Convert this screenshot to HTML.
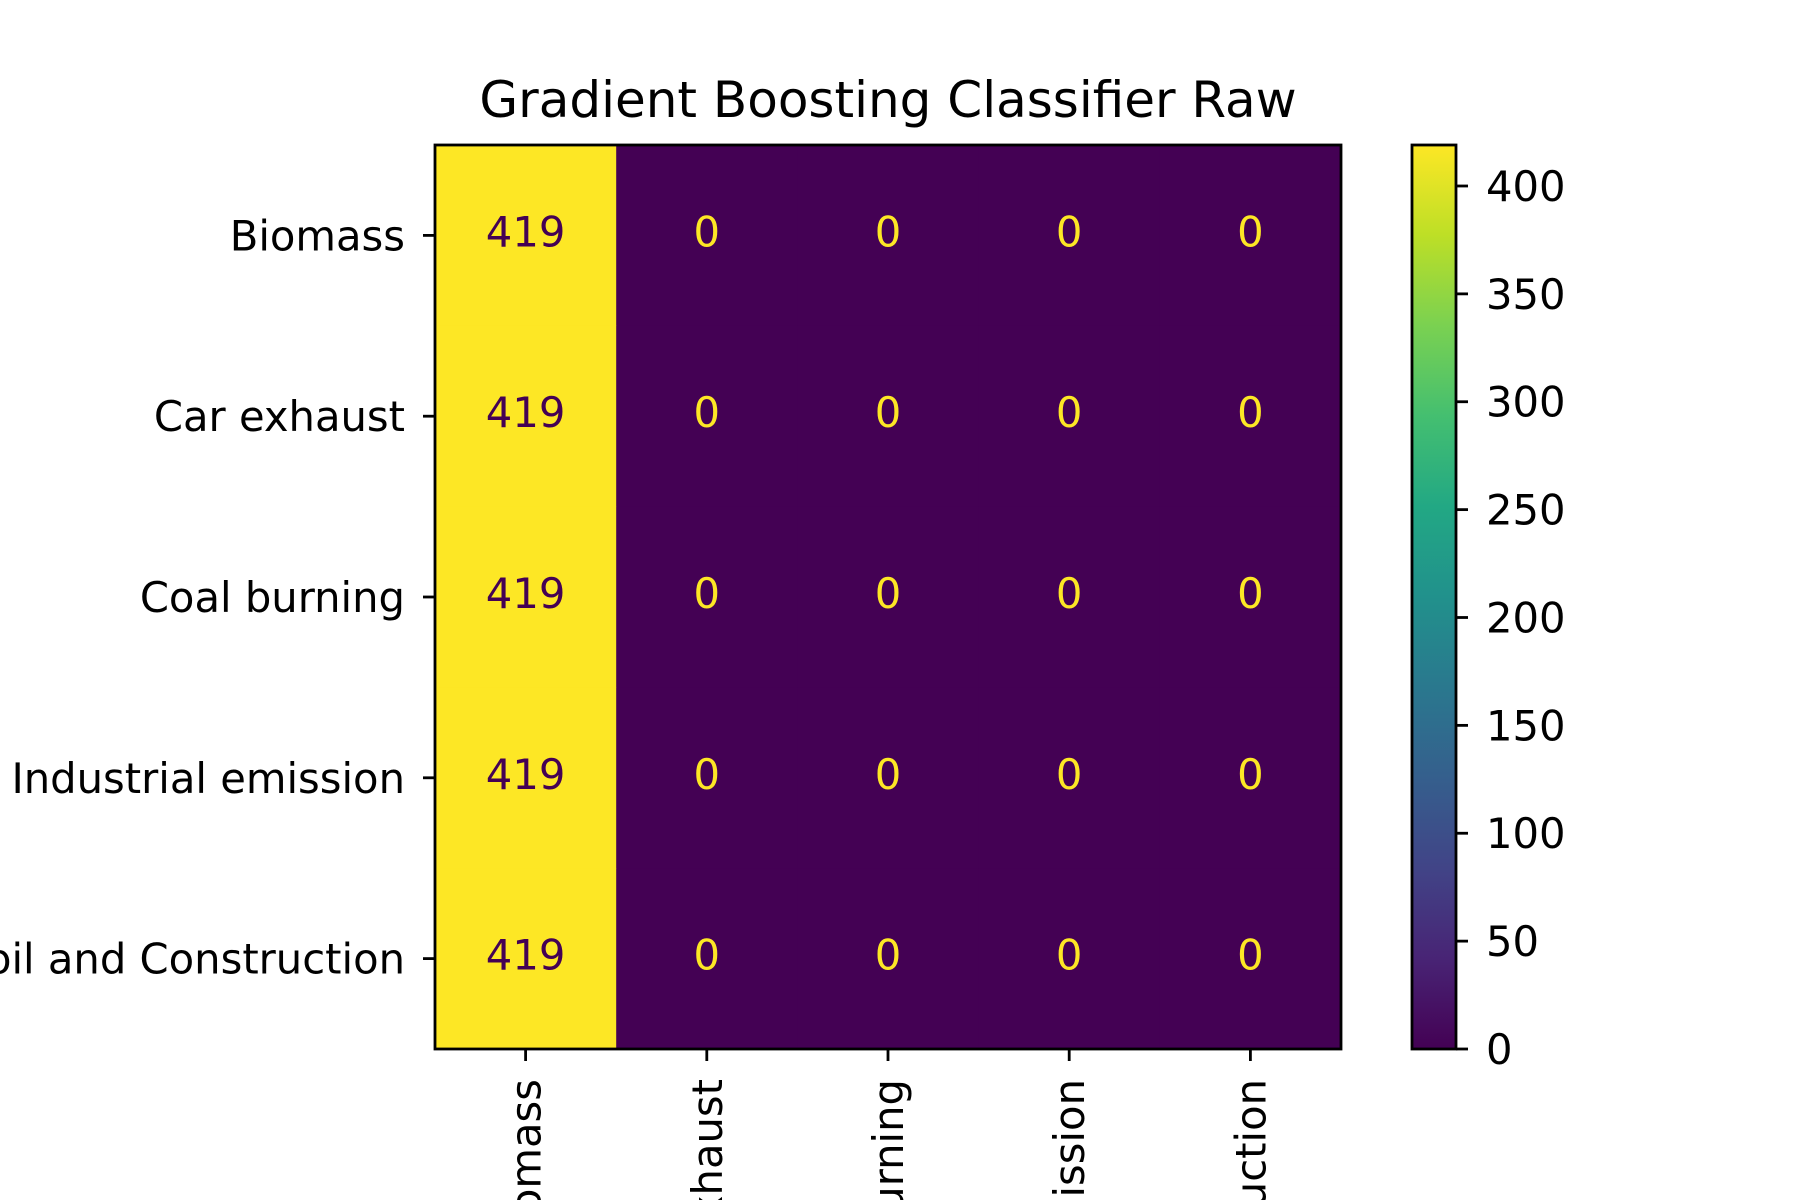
<!DOCTYPE html>
<html><head><meta charset="utf-8"><style>
html,body{margin:0;padding:0;background:#fff;width:1800px;height:1200px;overflow:hidden;}
svg{display:block;}
svg text{font-family:"DejaVu Sans","Liberation Sans",sans-serif;}
</style></head><body>
<svg id="chart" width="1800" height="1200" xmlns="http://www.w3.org/2000/svg">
<defs>
<linearGradient id="viridis" x1="0" y1="1" x2="0" y2="0">
<stop offset="0" stop-color="#440154"/><stop offset="0.1" stop-color="#482475"/>
<stop offset="0.2" stop-color="#414487"/><stop offset="0.3" stop-color="#355f8d"/>
<stop offset="0.4" stop-color="#2a788e"/><stop offset="0.5" stop-color="#21918c"/>
<stop offset="0.6" stop-color="#22a884"/><stop offset="0.7" stop-color="#44bf70"/>
<stop offset="0.8" stop-color="#7ad151"/><stop offset="0.9" stop-color="#bddf26"/>
<stop offset="1" stop-color="#fde725"/>
</linearGradient>
</defs>
<text x="888" y="117" font-size="50" text-anchor="middle">Gradient Boosting Classifier Raw</text>
<g id="cells"></g>
<g id="axes"></g>
<rect x="1412" y="145" width="44" height="904" fill="url(#viridis)" stroke="#000" stroke-width="2.8"/>
<g id="cbar"></g>
</svg>
<script>
const labels = ["Biomass","Car exhaust","Coal burning","Industrial emission","Soil and Construction"];
const matrix = [
 [419,0,0,0,0],
 [419,0,0,0,0],
 [419,0,0,0,0],
 [419,0,0,0,0],
 [419,0,0,0,0]
];
const cbarTicks = [0,50,100,150,200,250,300,350,400];
const vmax = 419;

const NS="http://www.w3.org/2000/svg";
const L=435,R=1341,T=145,B=1049;
const n=labels.length, cw=(R-L)/n, ch=(B-T)/n;
const xc=i=>L+cw*(i+0.5), yc=i=>T+ch*(i+0.5);
const cy=v=>B-(B-T)*v/vmax;
const FS=41.7;
const stops=[[68,1,84],[72,36,117],[65,68,135],[53,95,141],[42,120,142],[33,145,140],[34,168,132],[68,191,112],[122,209,81],[189,223,38],[253,231,37]];
function viridis(t){t=Math.max(0,Math.min(1,t));const p=t*10,i=Math.min(9,Math.floor(p)),f=p-i;
 const c=stops[i].map((a,k)=>Math.round(a+(stops[i+1][k]-a)*f));return `rgb(${c})`;}
function mk(tag,attrs,parent){const e=document.createElementNS(NS,tag);for(const k in attrs)e.setAttribute(k,attrs[k]);parent.appendChild(e);return e;}
const cells=document.getElementById('cells'), axes=document.getElementById('axes'), cb=document.getElementById('cbar');
matrix.forEach((row,r)=>row.forEach((v,c)=>{
 const rc=mk('rect',{x:L+cw*c,y:T+ch*r,width:cw+0.5,height:ch+0.5,fill:viridis(v/vmax)},cells);
 
 
 const t=mk('text',{x:xc(c),y:yc(r)+11,'font-size':FS,'text-anchor':'middle',fill:v/vmax>0.5?'#440154':'#fde725'},cells);
 
 
 t.textContent=v;
}));
const fr=mk('rect',{x:L,y:T,width:R-L,height:B-T,fill:'none',stroke:'#000','stroke-width':2.8},axes);


labels.forEach((lab,i)=>{
 mk('line',{x1:L,x2:L-12,y1:yc(i),y2:yc(i),stroke:'#000','stroke-width':2.8},axes);
 const yl=mk('text',{x:405,y:yc(i)+15,'font-size':FS,'text-anchor':'end'},axes);
 
 
 yl.textContent=lab;
 mk('line',{x1:xc(i),x2:xc(i),y1:B,y2:B+12,stroke:'#000','stroke-width':2.8},axes);
 const xl=mk('text',{x:0,y:0,'font-size':FS,'text-anchor':'end',transform:`translate(${xc(i)+15},1079) rotate(-90)`},axes);
 
 
 xl.textContent=lab;
});
cbarTicks.forEach(v=>{
 mk('line',{x1:1456,x2:1468,y1:cy(v),y2:cy(v),stroke:'#000','stroke-width':2.8},cb);
 const t=mk('text',{x:1486,y:cy(v)+15,'font-size':FS},cb);
 
 
 t.textContent=v;
});
</script>
</body></html>
